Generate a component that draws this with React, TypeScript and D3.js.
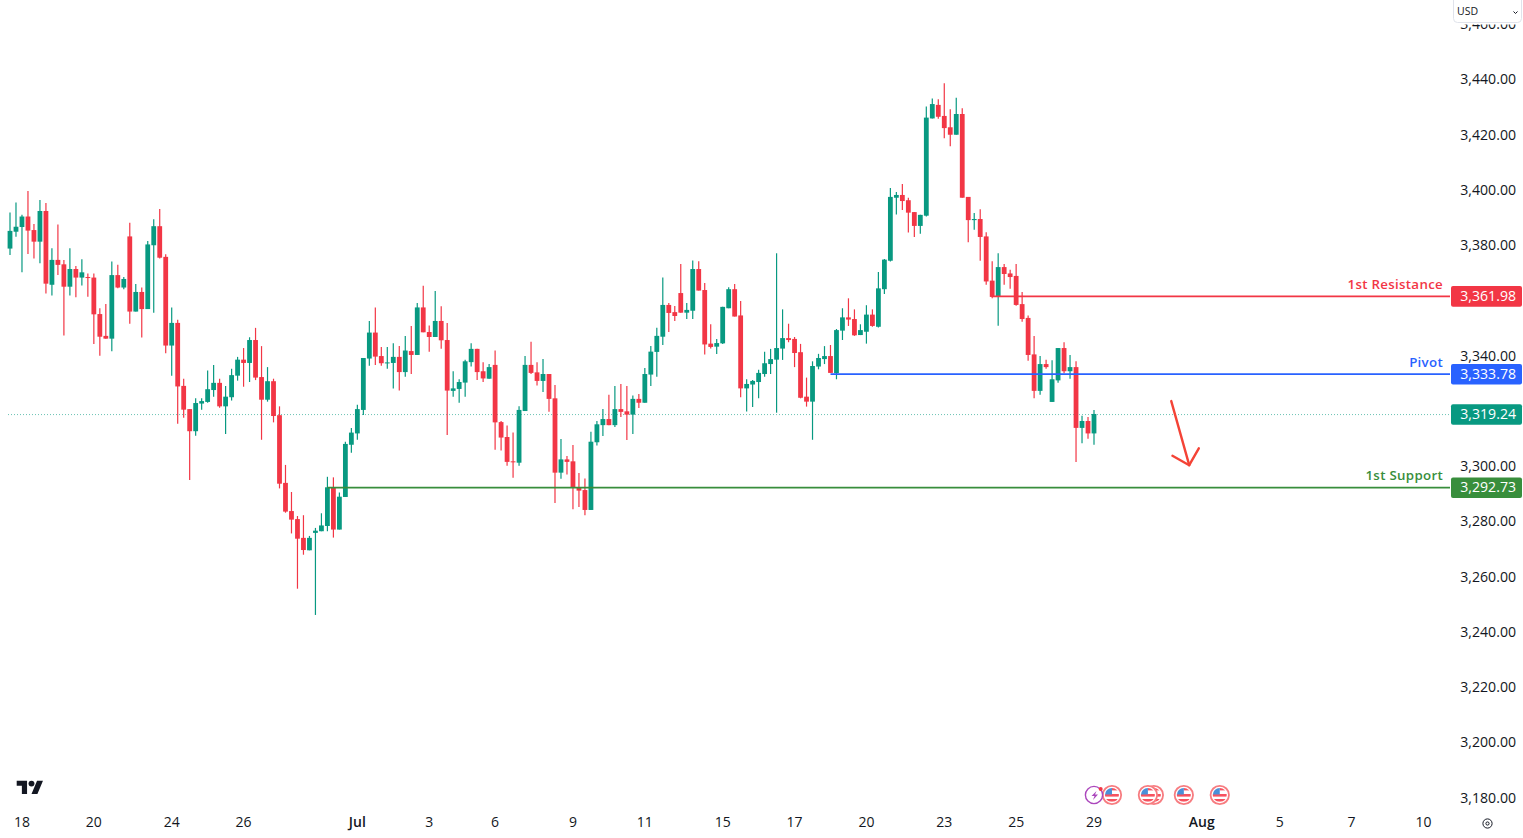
import * as d3 from 'd3';

// 4h bars, bar 0 = first candle on the left
const opens = [
  3379.1, 3385.2, 3386.9, 3390.7, 3385.8, 3381.6, 3392.7, 3366.0, 3375.0, 3373.4,
  3365.3, 3371.7, 3368.6, 3368.8, 3368.6, 3355.4, 3347.5, 3346.5, 3369.5, 3365.0,
  3383.5, 3356.3, 3363.4, 3357.2, 3380.3, 3387.2, 3376.1, 3344.0, 3352.2, 3329.4,
  3321.0, 3313.0, 3323.0, 3323.6, 3327.9, 3330.5, 3322.0, 3325.3, 3333.1, 3338.9,
  3337.7, 3346.0, 3332.6, 3324.4, 3331.1, 3318.8, 3294.3, 3284.1, 3281.2, 3274.4,
  3269.9, 3276.2, 3276.8, 3278.7, 3292.7, 3277.4, 3289.2, 3308.1, 3312.2, 3320.7,
  3339.3, 3348.7, 3340.2, 3337.7, 3337.7, 3339.9, 3334.4, 3342.0, 3340.6, 3357.8,
  3348.9, 3347.1, 3352.9, 3346.0, 3327.6, 3328.3, 3330.6, 3338.0, 3342.8, 3334.7,
  3332.0, 3337.0, 3316.3, 3310.9, 3302.1, 3301.6, 3320.3, 3337.0, 3334.3, 3331.2,
  3333.7, 3324.9, 3298.0, 3302.8, 3302.1, 3292.8, 3291.7, 3284.5, 3309.0, 3315.2,
  3317.4, 3315.2, 3321.0, 3320.2, 3319.0, 3324.7, 3323.3, 3333.5, 3341.7, 3347.2,
  3358.7, 3356.1, 3363.0, 3355.9, 3356.6, 3371.7, 3364.1, 3344.7, 3343.6, 3344.8,
  3357.5, 3364.4, 3354.9, 3328.5, 3329.9, 3330.8, 3333.7, 3337.3, 3338.9, 3342.9,
  3346.7, 3346.4, 3341.6, 3325.5, 3323.7, 3336.4, 3339.1, 3340.2, 3334.0, 3349.4,
  3354.2, 3353.6, 3347.8, 3349.0, 3355.2, 3350.8, 3364.4, 3374.7, 3397.5, 3398.5,
  3396.6, 3392.3, 3387.3, 3391.0, 3426.2, 3431.1, 3427.1, 3423.0, 3420.3, 3427.8,
  3397.8, 3389.4, 3389.8, 3383.5, 3367.5, 3361.6, 3372.4, 3370.1, 3369.2, 3359.0,
  3354.0, 3340.8, 3327.6, 3337.3, 3323.6, 3331.4, 3343.1, 3334.7, 3336.2, 3314.2,
  3316.7, 3312.2,
];
const highs = [
  3392.2, 3395.8, 3391.3, 3399.9, 3388.0, 3396.7, 3395.6, 3379.2, 3387.8, 3375.0,
  3379.2, 3372.8, 3375.2, 3370.1, 3370.1, 3357.5, 3359.0, 3374.4, 3373.2, 3368.8,
  3388.4, 3366.3, 3365.0, 3381.8, 3389.7, 3393.4, 3377.0, 3357.8, 3353.3, 3332.0,
  3321.0, 3324.9, 3324.9, 3335.0, 3337.0, 3332.0, 3329.4, 3335.6, 3339.9, 3343.1,
  3347.0, 3350.4, 3343.8, 3336.2, 3332.0, 3322.0, 3300.8, 3291.0, 3282.3, 3282.6,
  3275.1, 3278.0, 3283.3, 3296.5, 3296.3, 3290.8, 3309.2, 3314.2, 3322.6, 3339.5,
  3352.9, 3357.8, 3343.5, 3343.5, 3344.8, 3343.8, 3347.5, 3351.1, 3359.4, 3365.6,
  3351.3, 3363.7, 3358.2, 3352.2, 3334.7, 3331.8, 3338.9, 3344.8, 3342.8, 3338.0,
  3337.3, 3342.2, 3316.7, 3315.1, 3312.5, 3322.0, 3340.2, 3345.4, 3338.0, 3339.1,
  3333.7, 3329.7, 3310.2, 3304.0, 3308.0, 3297.9, 3295.9, 3312.8, 3316.7, 3321.0,
  3326.2, 3329.4, 3330.1, 3329.4, 3325.9, 3326.5, 3335.9, 3343.8, 3350.4, 3368.6,
  3359.4, 3358.3, 3373.5, 3359.4, 3374.8, 3374.5, 3366.6, 3351.7, 3346.4, 3358.0,
  3365.1, 3366.3, 3360.1, 3331.8, 3331.5, 3335.2, 3341.8, 3342.8, 3377.4, 3357.1,
  3351.9, 3347.1, 3344.6, 3332.4, 3338.3, 3341.0, 3343.8, 3344.2, 3350.0, 3357.5,
  3361.1, 3357.1, 3351.7, 3358.6, 3357.1, 3370.6, 3375.3, 3401.0, 3399.6, 3402.5,
  3397.5, 3392.3, 3391.3, 3430.5, 3433.4, 3433.1, 3438.9, 3429.5, 3433.7, 3429.9,
  3397.8, 3392.0, 3393.3, 3385.0, 3374.5, 3377.4, 3373.5, 3371.4, 3373.5, 3363.4,
  3354.9, 3347.5, 3340.2, 3338.9, 3338.7, 3343.1, 3345.2, 3340.6, 3338.3, 3318.6,
  3318.1, 3320.7,
];
const lows = [
  3376.8, 3383.4, 3370.5, 3377.1, 3375.5, 3373.8, 3362.8, 3362.1, 3369.5, 3347.6,
  3362.1, 3361.5, 3365.7, 3361.7, 3344.6, 3340.3, 3346.5, 3341.9, 3364.7, 3364.4,
  3351.9, 3356.3, 3346.9, 3357.2, 3355.9, 3375.5, 3341.2, 3333.1, 3315.7, 3317.9,
  3295.3, 3311.4, 3320.8, 3323.3, 3325.5, 3321.5, 3312.0, 3324.1, 3331.3, 3329.1,
  3330.8, 3331.5, 3309.9, 3323.7, 3316.2, 3292.3, 3283.5, 3276.0, 3256.0, 3268.3,
  3269.9, 3246.5, 3276.8, 3276.8, 3274.5, 3277.4, 3289.2, 3305.2, 3309.9, 3318.9,
  3336.7, 3337.0, 3336.7, 3335.6, 3328.5, 3327.7, 3332.7, 3333.7, 3340.6, 3348.8,
  3341.8, 3347.1, 3342.8, 3311.6, 3325.5, 3323.3, 3325.5, 3336.4, 3331.5, 3330.8,
  3332.0, 3306.3, 3306.0, 3300.5, 3296.2, 3300.5, 3320.3, 3333.7, 3329.5, 3327.2,
  3320.0, 3287.0, 3295.8, 3297.3, 3284.8, 3285.6, 3282.6, 3284.5, 3307.8, 3311.3,
  3315.2, 3314.5, 3318.1, 3309.8, 3312.0, 3321.4, 3323.3, 3329.4, 3332.7, 3344.2,
  3348.9, 3352.9, 3355.9, 3353.6, 3353.6, 3363.9, 3340.8, 3342.9, 3340.9, 3344.6,
  3357.5, 3354.5, 3325.3, 3320.1, 3321.8, 3324.9, 3332.7, 3333.7, 3319.7, 3338.8,
  3345.2, 3336.2, 3324.9, 3321.9, 3309.9, 3335.4, 3337.3, 3334.1, 3331.8, 3346.0,
  3351.1, 3347.5, 3347.8, 3344.7, 3350.8, 3350.5, 3362.7, 3374.4, 3391.4, 3393.1,
  3384.9, 3383.3, 3384.5, 3390.7, 3426.2, 3426.1, 3419.0, 3416.1, 3420.3, 3397.5,
  3381.4, 3385.9, 3374.7, 3366.0, 3361.1, 3351.2, 3366.0, 3364.6, 3358.4, 3352.6,
  3338.5, 3324.9, 3326.2, 3335.6, 3323.6, 3330.5, 3334.0, 3332.0, 3301.9, 3308.6,
  3310.3, 3308.1,
];
const closes = [
  3385.5, 3387.0, 3390.7, 3385.6, 3381.6, 3392.7, 3366.4, 3375.0, 3373.2, 3365.3,
  3371.7, 3368.6, 3370.5, 3368.6, 3355.3, 3347.2, 3346.5, 3369.5, 3365.0, 3368.1,
  3356.3, 3363.4, 3357.2, 3380.6, 3387.2, 3375.8, 3344.0, 3352.2, 3329.2, 3320.8,
  3313.0, 3323.2, 3323.9, 3328.2, 3330.5, 3322.0, 3325.5, 3333.3, 3338.9, 3337.7,
  3346.0, 3332.4, 3324.4, 3331.1, 3318.5, 3294.0, 3283.9, 3281.0, 3274.1, 3270.0,
  3274.4, 3277.0, 3278.9, 3292.7, 3277.4, 3289.3, 3308.4, 3312.5, 3321.0, 3339.5,
  3348.7, 3340.0, 3337.6, 3337.9, 3339.9, 3334.4, 3342.2, 3340.6, 3357.8, 3348.8,
  3347.1, 3352.9, 3345.9, 3327.7, 3328.5, 3330.8, 3338.3, 3342.8, 3334.4, 3332.1,
  3336.2, 3316.2, 3310.7, 3301.9, 3301.9, 3320.7, 3337.0, 3334.1, 3331.2, 3333.7,
  3324.7, 3298.0, 3302.8, 3301.9, 3292.7, 3291.5, 3284.5, 3309.2, 3315.5, 3317.4,
  3315.2, 3321.0, 3320.0, 3319.0, 3324.7, 3323.3, 3333.7, 3341.8, 3347.5, 3358.7,
  3355.8, 3354.7, 3355.9, 3356.9, 3371.7, 3363.9, 3344.4, 3343.5, 3344.9, 3358.0,
  3364.4, 3354.5, 3328.5, 3330.1, 3331.2, 3334.1, 3337.6, 3339.1, 3343.1, 3346.7,
  3346.0, 3341.3, 3325.1, 3323.7, 3336.6, 3339.5, 3340.2, 3334.1, 3349.6, 3354.2,
  3353.4, 3347.7, 3349.6, 3355.2, 3351.1, 3364.7, 3375.1, 3397.8, 3398.5, 3396.3,
  3392.1, 3387.3, 3391.3, 3426.5, 3431.4, 3426.8, 3422.7, 3420.3, 3427.8, 3397.5,
  3389.4, 3389.8, 3383.3, 3367.2, 3361.6, 3372.4, 3369.9, 3368.8, 3358.7, 3353.6,
  3340.6, 3327.6, 3337.3, 3336.2, 3331.8, 3343.1, 3334.7, 3336.2, 3314.2, 3316.7,
  3312.2, 3319.24,
];

const priceTicks = [3180, 3200, 3220, 3240, 3260, 3280, 3300, 3340, 3380, 3400, 3420, 3440, 3460];
const timeTickBars = [2, 14, 27, 39, 58, 70, 81, 94, 106, 119, 131, 143, 156, 168, 181, 199, 212, 224, 236];
const timeTickLabels = ['18', '20', '24', '26', 'Jul', '3', '6', '9', '11', '15', '17', '20', '23', '25', '29', 'Aug', '5', '7', '10'];
const boldTimeLabels = ['Jul', 'Aug'];

const levelNames = ['1st Resistance', 'Pivot', '1st Support'];
const levelPrices = [3361.98, 3333.78, 3292.73];
const levelStartBars = [164, 137, 53];
const levelColors = ['#f23645', '#2962ff', '#388e3c'];

const lastPrice = 3319.24;
const flagBars = [184, 191, 190, 196, 202];
const boltBar = 181;

// hand-drawn arrow as [bar, price]
const arrowShaft: [number, number][] = [[193.9, 3323.9], [196.9, 3300.7]];
const arrowHead: [number, number][] = [[194.1, 3304.1], [196.9, 3300.7], [198.5, 3306.8]];

const UP = '#089981';
const DOWN = '#f23645';
const INK = '#131722';
const FONT = '"Open Sans", Roboto, sans-serif';

const WIDTH = 1523;
const HEIGHT = 838;
const AXIS_X = 1451;

const x = d3.scaleLinear().domain([0, 181]).range([10, 1094]);
const y = d3.scaleLinear().domain([3180, 3440]).range([798.7, 80.3]);
const fmt = d3.format(',.2f');

const FlagIcon = ({ bar }: { bar: number }) => {
  const cx = x(bar);
  const cy = 795;
  const id = `flag-${bar}`;
  return (
    <g>
      <circle cx={cx} cy={cy} r={9.2} fill="#fff" stroke="#f77c80" strokeWidth={1.8} />
      <clipPath id={id}>
        <circle cx={cx} cy={cy} r={7} />
      </clipPath>
      <g clipPath={`url(#${id})`}>
        <rect x={cx - 8} y={cy - 8} width={16} height={16} fill="#fff" />
        <rect x={cx - 8} y={cy - 1} width={16} height={2.6} fill="#f7525f" />
        <rect x={cx - 8} y={cy + 4} width={16} height={2.6} fill="#f7525f" />
        <rect x={cx} y={cy - 7} width={8} height={2.4} fill="#f7525f" />
        <rect x={cx - 8} y={cy - 8} width={8} height={7.5} fill="#4a8fd8" />
      </g>
    </g>
  );
};

export default function App() {
  const bodyWidth = 4.8;
  const line = d3.line<[number, number]>().x((d) => x(d[0])).y((d) => y(d[1]));

  return (
    <svg
      width={WIDTH}
      height={HEIGHT}
      style={{ position: 'fixed', left: 0, top: 0, display: 'block', background: '#fff', fontFamily: FONT }}
    >
      {/* last price dotted line */}
      <line
        x1={8}
        x2={AXIS_X}
        y1={y(lastPrice) + 0.6}
        y2={y(lastPrice) + 0.6}
        stroke={UP}
        strokeOpacity={0.6}
        strokeWidth={1}
        strokeDasharray="1 2"
      />

      {/* candles */}
      {opens.map((open, i) => {
        const close = closes[i];
        const color = close >= open ? UP : DOWN;
        const top = y(Math.max(open, close));
        const bottom = y(Math.min(open, close));
        return (
          <g key={i}>
            <line x1={x(i)} x2={x(i)} y1={y(highs[i])} y2={y(lows[i])} stroke={color} strokeWidth={1.2} />
            <rect
              x={x(i) - bodyWidth / 2}
              y={top}
              width={bodyWidth}
              height={Math.max(bottom - top, 1)}
              fill={color}
            />
          </g>
        );
      })}

      {/* support / resistance levels */}
      {levelNames.map((name, i) => (
        <g key={name}>
          <line
            x1={x(levelStartBars[i])}
            x2={AXIS_X - 1}
            y1={y(levelPrices[i]) + 0.4}
            y2={y(levelPrices[i]) + 0.4}
            stroke={levelColors[i]}
            strokeWidth={1.8}
          />
          <text
            x={1443}
            y={y(levelPrices[i]) - 10.4}
            textAnchor="end"
            dominantBaseline="middle"
            fontSize={13.3}
            fontWeight={600}
            letterSpacing={0.3}
            fill={levelColors[i]}
          >
            {name}
          </text>
        </g>
      ))}

      {/* arrow */}
      <path d={line(arrowShaft) ?? ''} fill="none" stroke="#f44336" strokeWidth={2.4} strokeLinecap="round" />
      <path
        d={line(arrowHead) ?? ''}
        fill="none"
        stroke="#f44336"
        strokeWidth={2.4}
        strokeLinecap="round"
        strokeLinejoin="round"
      />

      {/* price axis */}
      {priceTicks.map((p) => (
        <text
          key={p}
          x={1516}
          y={y(p) + 0.2}
          textAnchor="end"
          dominantBaseline="middle"
          fontSize={14.1}
          fill={INK}
        >
          {fmt(p)}
        </text>
      ))}

      {/* price labels */}
      {[...levelPrices, lastPrice].map((p, i) => (
        <g key={p}>
          <rect x={AXIS_X} y={y(p) - 9.8} width={71} height={20.6} rx={2} fill={levelColors[i] ?? UP} />
          <text
            x={1516}
            y={y(p) + 1}
            textAnchor="end"
            dominantBaseline="middle"
            fontSize={14.1}
            fill="#fff"
          >
            {fmt(p)}
          </text>
        </g>
      ))}

      {/* currency box, covers the clipped top tick */}
      <rect x={1440} y={0} width={83} height={24.5} fill="#fff" />
      <rect x={1453.5} y={-4} width={68} height={26.5} rx={4} fill="#fff" stroke="#e0e3eb" />
      <text x={1457} y={12} dominantBaseline="middle" fontSize={10.5} fill={INK}>
        USD
      </text>
      <path d="M1513.5 11.5l2 2 2-2" fill="none" stroke={INK} strokeWidth={1} />

      {/* time axis */}
      {timeTickBars.map((bar, i) => (
        <text
          key={bar}
          x={x(bar)}
          y={823}
          textAnchor="middle"
          dominantBaseline="middle"
          fontSize={14}
          fontWeight={boldTimeLabels.includes(timeTickLabels[i]) ? 600 : 400}
          fill={INK}
        >
          {timeTickLabels[i]}
        </text>
      ))}

      {/* tradingview logo */}
      <g transform="translate(16.7,777.7) scale(0.74)" fill={INK}>
        <path d="M14 22H7V11H0V4h14v18zM28 22h-8l7.5-18h8L28 22z" />
        <circle cx={20} cy={8} r={4} />
      </g>

      {/* events */}
      {flagBars.map((bar) => (
        <FlagIcon key={bar} bar={bar} />
      ))}
      <g>
        <circle cx={x(boltBar)} cy={795} r={8.6} fill="#fff" stroke="#ab47bc" strokeWidth={1.4} />
        <path
          d={`M${x(boltBar) + 2.5} ${791} l-5 5 h3 l-1.5 4 l5 -5.5 h-3 z`}
          fill="#ab47bc"
        />
        <circle cx={x(boltBar) + 6.7} cy={789} r={2} fill="#f23645" />
      </g>

      {/* settings icon */}
      <circle cx={1487.5} cy={823.5} r={4.6} fill="none" stroke={INK} strokeWidth={1} />
      <circle cx={1487.5} cy={823.5} r={1.6} fill="none" stroke={INK} strokeWidth={1} />
    </svg>
  );
}
